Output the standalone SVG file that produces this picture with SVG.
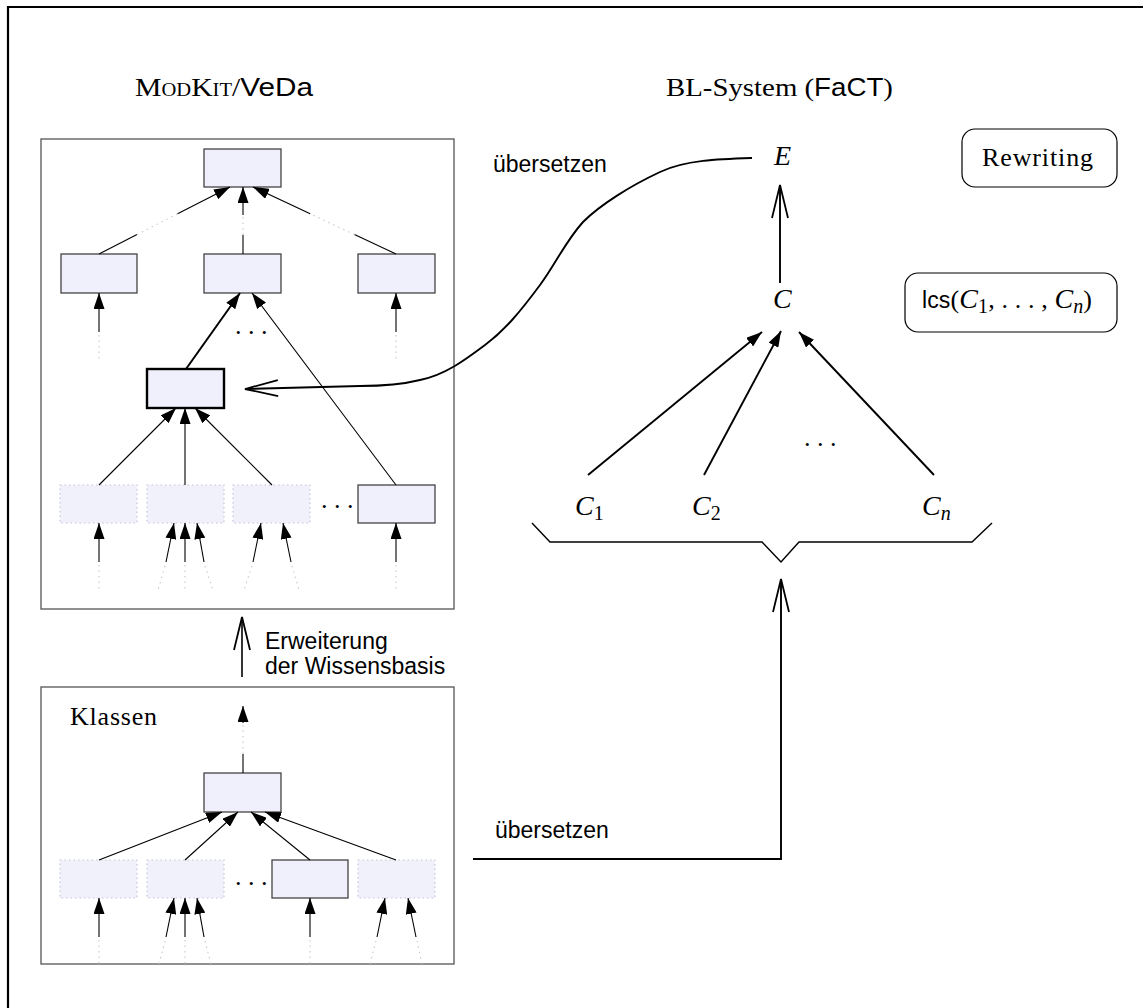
<svg xmlns="http://www.w3.org/2000/svg" width="1143" height="1008" viewBox="0 0 1143 1008">
  <style>
    .serif { font-family: "Liberation Serif", "DejaVu Serif", serif; font-size: 26px; fill: #000; }
    .sans { font-family: "Liberation Sans", "DejaVu Sans", sans-serif; font-size: 23px; fill: #000; }
    .math { font-family: "Liberation Serif", "DejaVu Serif", serif; font-size: 28px; font-style: italic; fill: #000; }
    .sub { font-family: "Liberation Serif", "DejaVu Serif", serif; font-size: 20px; font-style: normal; }
    .dots { font-family: "Liberation Serif", "DejaVu Serif", serif; font-size: 26px; fill: #000; }
    .frame { fill: none; stroke: #555; stroke-width: 1.3; }
    .node { fill: #f0f0fd; stroke: #444; stroke-width: 1.3; }
    .node-bold { fill: #f0f0fd; stroke: #000; stroke-width: 2.4; }
    .node-ghost { fill: #f1f1fc; stroke: #c4c4dc; stroke-width: 1.2; stroke-dasharray: 1.5 3; }
    .edge { fill: none; stroke: #000; stroke-width: 1.1; }
    .edge-bold { fill: none; stroke: #000; stroke-width: 2; }
    .edge-faint { fill: none; stroke: #c8c8c8; stroke-width: 1.1; stroke-dasharray: 1.5 4; }
    .conn { fill: none; stroke: #000; stroke-width: 1.9; }
    .rbox { fill: #fff; stroke: #000; stroke-width: 1.2; }
  </style>
  <defs>
    <marker id="tri" markerUnits="userSpaceOnUse" viewBox="0 0 16 11" refX="16" refY="5.5" markerWidth="16" markerHeight="11" orient="auto">
      <path d="M0,0 L16,5.5 L0,11 z" fill="#000"/>
    </marker>
    <marker id="open" markerUnits="userSpaceOnUse" viewBox="-36 -10 38 20" refX="0" refY="0" markerWidth="38" markerHeight="20" orient="auto">
      <path d="M-33,-8 L0,0 L-33,8" fill="none" stroke="#000" stroke-width="1.8"/>
    </marker>
  </defs>

  <!-- outer frame (only top and left edges fall inside the page) -->
  <path d="M8,1008 L8,7 L1143,7" fill="none" stroke="#000" stroke-width="2.2"/>

  <!-- titles -->
  <text class="serif" x="135" y="96" textLength="178" lengthAdjust="spacingAndGlyphs"><tspan style="font-variant: small-caps">ModKit</tspan>/<tspan class="sans" style="font-size:26px">VeDa</tspan></text>
  <text class="serif" x="666" y="96" textLength="227" lengthAdjust="spacingAndGlyphs">BL-System (<tspan class="sans" style="font-size:25px">FaCT</tspan>)</text>

  <!-- upper container: extended knowledge base -->
  <g id="kb-box">
    <rect class="frame" x="41" y="139" width="413" height="470"/>
  </g>
  <g id="kb-top"><rect class="node" x="204" y="149" width="77" height="38"/></g>
  <g id="kb-l2a"><rect class="node" x="61" y="254" width="76" height="39"/></g>
  <g id="kb-l2b"><rect class="node" x="204" y="254" width="77" height="39"/></g>
  <g id="kb-l2c"><rect class="node" x="358" y="254" width="77" height="39"/></g>
  <g id="kb-new"><rect class="node-bold" x="147" y="369" width="77" height="39"/></g>
  <g id="kb-l4a"><rect class="node-ghost" x="60" y="485" width="77" height="38"/></g>
  <g id="kb-l4b"><rect class="node-ghost" x="147" y="485" width="77" height="38"/></g>
  <g id="kb-l4c"><rect class="node-ghost" x="233" y="485" width="77" height="38"/></g>
  <g id="kb-l4d"><rect class="node" x="358" y="485" width="77" height="38"/></g>
  <text class="dots" x="235" y="334">. . .</text>
  <text class="dots" x="321" y="508">. . .</text>

  <!-- lower container: classes -->
  <g id="cls-box">
    <rect class="frame" x="41" y="687" width="413" height="277"/>
    <text class="serif" x="70" y="725" textLength="87">Klassen</text>
  </g>
  <g id="cls-top"><rect class="node" x="204" y="773" width="77" height="39"/></g>
  <g id="cls-a"><rect class="node-ghost" x="60" y="860" width="77" height="38"/></g>
  <g id="cls-b"><rect class="node-ghost" x="147" y="860" width="77" height="38"/></g>
  <g id="cls-c"><rect class="node" x="272" y="860" width="76" height="38"/></g>
  <g id="cls-d"><rect class="node-ghost" x="358" y="860" width="77" height="38"/></g>
  <text class="dots" x="235" y="885">. . .</text>

  <!-- right-hand concept terms -->
  <g id="term-E"><text class="math" x="774" y="165">E</text></g>
  <g id="term-C"><text class="math" x="773" y="308">C</text></g>
  <g id="term-C1"><text class="math" x="575" y="515">C<tspan class="sub" dy="5">1</tspan></text></g>
  <g id="term-C2"><text class="math" x="692" y="515">C<tspan class="sub" dy="5">2</tspan></text></g>
  <g id="term-Cn"><text class="math" x="922" y="515">C<tspan style="font-size:20px" dy="5">n</tspan></text></g>
  <text class="dots" x="804" y="446">. . .</text>

  <g id="note-rewriting">
    <rect class="rbox" x="962" y="129" width="155" height="58" rx="13"/>
    <text class="serif" x="982" y="166" textLength="111">Rewriting</text>
  </g>
  <g id="note-lcs">
    <rect class="rbox" x="905" y="273" width="212" height="59" rx="13"/>
    <text class="serif" x="922" y="308" textLength="170"><tspan class="sans" style="font-size:23px">lcs</tspan>(<tspan class="math">C</tspan><tspan class="sub" dy="5">1</tspan><tspan dy="-5">, . . . , </tspan><tspan class="math">C</tspan><tspan class="math" style="font-size:20px" dy="5">n</tspan><tspan dy="-5">)</tspan></text>
  </g>

  <!-- connectors -->
  <g id="connectors">
    <!-- upper box: level 2 to top (with faint middle parts) -->
    <path class="edge" d="M99,254 L137,234.6"/>
    <path class="edge-faint" d="M137,234.6 L177.6,213.8"/>
    <path class="edge" d="M177.6,213.8 L230,187" marker-end="url(#tri)"/>
    <path class="edge" d="M243,254 L243,235"/>
    <path class="edge-faint" d="M243,235 L243,215"/>
    <path class="edge" d="M243,215 L243,187" marker-end="url(#tri)"/>
    <path class="edge" d="M396,254 L354.5,234.6"/>
    <path class="edge-faint" d="M354.5,234.6 L310.2,213.8"/>
    <path class="edge" d="M310.2,213.8 L253,187" marker-end="url(#tri)"/>

    <!-- upper box: incoming to left/right level 2 -->
    <path class="edge" d="M99,332 L99,293" marker-end="url(#tri)"/>
    <path class="edge-faint" d="M99,335 L99,360"/>
    <path class="edge" d="M396,332 L396,293" marker-end="url(#tri)"/>
    <path class="edge-faint" d="M396,335 L396,360"/>

    <!-- new node to middle level 2 -->
    <path class="edge-bold" d="M186,369 L240,293" marker-end="url(#tri)"/>
    <path class="edge" d="M396,485 L252,293" marker-end="url(#tri)"/>

    <!-- level 4 to new node -->
    <path class="edge" d="M99,485 L176,408" marker-end="url(#tri)"/>
    <path class="edge" d="M185,485 L185,408" marker-end="url(#tri)"/>
    <path class="edge" d="M272,485 L195,408" marker-end="url(#tri)"/>

    <!-- incoming to level 4 -->
    <path class="edge" d="M99,562 L99,523" marker-end="url(#tri)"/>
    <path class="edge-faint" d="M99,565 L99,590"/>
    <path class="edge" d="M166,562 L174,523" marker-end="url(#tri)"/>
    <path class="edge-faint" d="M165,566 L158,590"/>
    <path class="edge" d="M185,562 L185,523" marker-end="url(#tri)"/>
    <path class="edge-faint" d="M185,565 L185,590"/>
    <path class="edge" d="M204,562 L197,523" marker-end="url(#tri)"/>
    <path class="edge-faint" d="M205,566 L213,590"/>
    <path class="edge" d="M253,562 L261,523" marker-end="url(#tri)"/>
    <path class="edge-faint" d="M252,566 L244,590"/>
    <path class="edge" d="M291,562 L283,523" marker-end="url(#tri)"/>
    <path class="edge-faint" d="M292,566 L299,590"/>
    <path class="edge" d="M396,562 L396,523" marker-end="url(#tri)"/>
    <path class="edge-faint" d="M396,565 L396,590"/>

    <!-- lower box: top node upward -->
    <path class="edge" d="M243,773 L243,754"/>
    <path class="edge-faint" d="M243,754 L243,725"/>
    <path class="edge" d="M243,723 L243,706" marker-end="url(#tri)"/>

    <!-- lower box: level 2 to top -->
    <path class="edge" d="M99,860 L222,812" marker-end="url(#tri)"/>
    <path class="edge" d="M185,860 L238,812" marker-end="url(#tri)"/>
    <path class="edge" d="M310,860 L251,812" marker-end="url(#tri)"/>
    <path class="edge" d="M396,860 L265,812" marker-end="url(#tri)"/>

    <!-- lower box: incoming to level 2 -->
    <path class="edge" d="M99,937 L99,898" marker-end="url(#tri)"/>
    <path class="edge-faint" d="M99,940 L99,964"/>
    <path class="edge" d="M166,937 L174,898" marker-end="url(#tri)"/>
    <path class="edge-faint" d="M165,941 L159,964"/>
    <path class="edge" d="M185,937 L185,898" marker-end="url(#tri)"/>
    <path class="edge-faint" d="M185,940 L185,964"/>
    <path class="edge" d="M204,937 L197,898" marker-end="url(#tri)"/>
    <path class="edge-faint" d="M205,941 L211,964"/>
    <path class="edge" d="M310,937 L310,898" marker-end="url(#tri)"/>
    <path class="edge-faint" d="M310,940 L310,964"/>
    <path class="edge" d="M377,937 L385,898" marker-end="url(#tri)"/>
    <path class="edge-faint" d="M376,941 L370,964"/>
    <path class="edge" d="M416,937 L408,898" marker-end="url(#tri)"/>
    <path class="edge-faint" d="M417,941 L422,964"/>

    <!-- knowledge base extension -->
    <path class="edge-bold" style="stroke-width:1.6" d="M242,677 L242,617" marker-end="url(#open)"/>
    <text class="sans" x="265" y="649">Erweiterung</text>
    <text class="sans" x="265" y="674">der Wissensbasis</text>

    <!-- translation of E back into the knowledge base -->
    <path class="conn" d="M752,158 C720,159 685,160 660,172 C630,186 600,205 583,222 C565,242 555,265 540,285 C520,312 505,330 485,345 C465,360 445,375 420,380 C400,385 380,386 360,386 L245,389" marker-end="url(#open)"/>
    <text class="sans" x="493" y="172">übersetzen</text>

    <!-- C to E -->
    <path class="conn" d="M780,283 L780,185" marker-end="url(#open)"/>

    <!-- Ci to C -->
    <path class="conn" d="M588,475 L762,332" marker-end="url(#tri)"/>
    <path class="conn" d="M704,475 L781,331" marker-end="url(#tri)"/>
    <path class="conn" d="M934,475 L799,332" marker-end="url(#tri)"/>

    <!-- brace under C1 ... Cn -->
    <path class="conn" style="stroke-width:1.4" d="M532,523 L550,542 L762,542 L781,562 L799,542 L972,542 L992,523"/>

    <!-- translation of the classes -->
    <path class="conn" d="M473,859 L781,859 L781,579" marker-end="url(#open)"/>
    <text class="sans" x="495" y="838">übersetzen</text>
  </g>
</svg>
